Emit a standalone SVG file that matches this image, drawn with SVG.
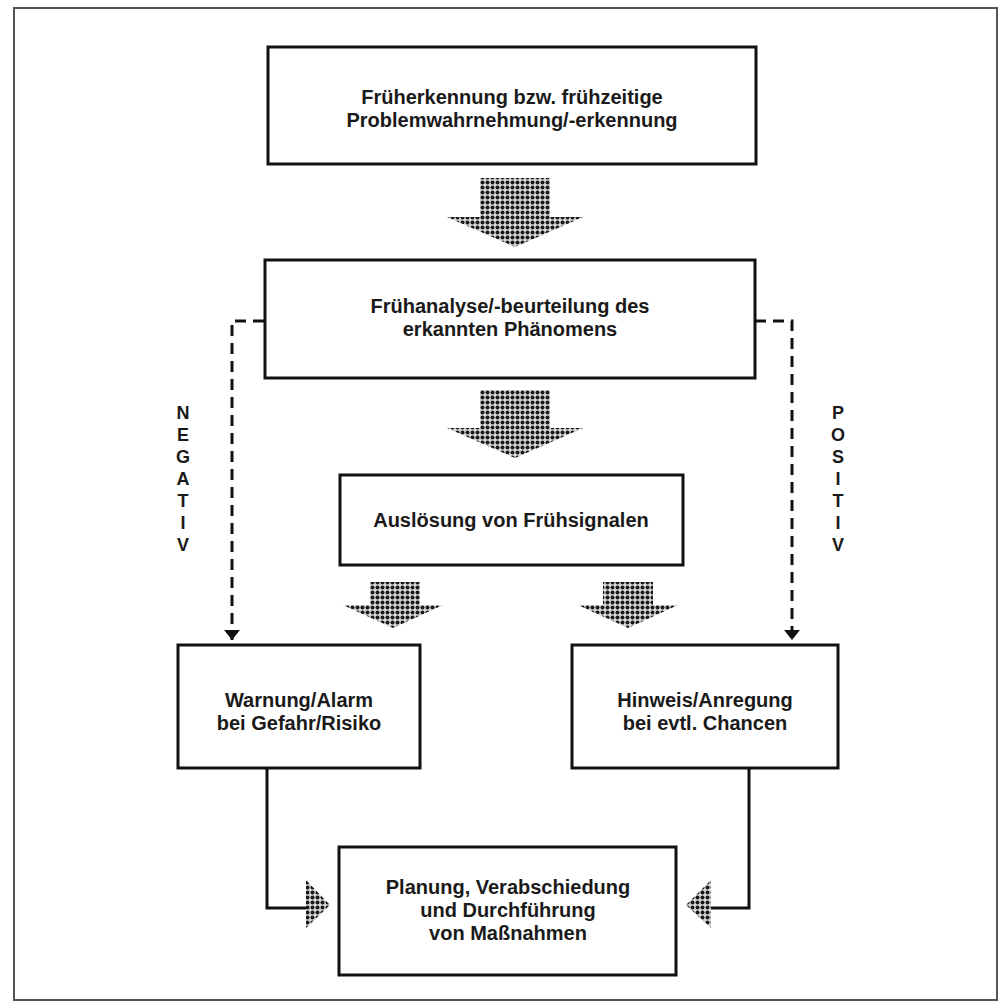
<svg xmlns="http://www.w3.org/2000/svg" width="1001" height="1005" viewBox="0 0 1001 1005">
<style>
.box{fill:#fff;stroke:#111;stroke-width:3}
.t{font-family:"Liberation Sans",Arial,sans-serif;font-weight:700;font-size:20px;fill:#1a1a1a;text-anchor:middle}
.lbl{font-family:"Liberation Sans",Arial,sans-serif;font-weight:700;font-size:18px;fill:#1a1a1a;text-anchor:middle}
.dash{fill:none;stroke:#111;stroke-width:3;stroke-dasharray:11 7}
.solid{fill:none;stroke:#111;stroke-width:3}
.hatch{fill:url(#dots)}
</style>
<defs>
<pattern id="dots" width="5" height="5" patternUnits="userSpaceOnUse">
<rect width="5" height="5" fill="#d8d8d8"/>
<circle cx="2.5" cy="2.5" r="2" fill="#1a1a1a"/>
</pattern>
<marker id="ah" viewBox="0 0 10 16" refX="10" refY="8" markerWidth="10" markerHeight="16" markerUnits="userSpaceOnUse" orient="auto">
<path d="M0,0 L10,8 L0,16 Z" fill="#111"/>
</marker>
</defs>
<rect width="1001" height="1005" fill="#fff"/>
<rect x="14" y="8" width="983" height="992" fill="none" stroke="#555" stroke-width="2"/>

<g id="connectors">
<path class="dash" d="M264,321 H232 V640" marker-end="url(#ah)"/>
<path class="dash" d="M755,321 H792 V640" marker-end="url(#ah)"/>
<path class="solid" d="M267,768 V908 H306"/>
<path class="solid" d="M749,768 V908 H711"/>
<polygon class="hatch" points="306,880 330,905 306,928"/>
<polygon class="hatch" points="711,880 686,905 711,928"/>
<polygon class="hatch" points="480,178 550,178 550,217 583,217 515,247 447,217 480,217"/>
<polygon class="hatch" points="480,390 550,390 550,428 583,428 515,458 447,428 480,428"/>
<polygon class="hatch" points="370,582 420,582 420,605 443,605 393,628 343,605 370,605"/>
<polygon class="hatch" points="603,582 653,582 653,605 678,605 628,628 578,605 603,605"/>
</g>

<g id="n1">
<rect class="box" x="268" y="47" width="488" height="117"/>
<text class="t" x="512" y="104">Früherkennung bzw. frühzeitige</text>
<text class="t" x="512" y="127">Problemwahrnehmung/-erkennung</text>
</g>
<g id="n2">
<rect class="box" x="265" y="260" width="490" height="118"/>
<text class="t" x="510" y="313">Frühanalyse/-beurteilung des</text>
<text class="t" x="510" y="336">erkannten Phänomens</text>
</g>
<g id="n3">
<rect class="box" x="340" y="475" width="343" height="90"/>
<text class="t" x="511" y="527">Auslösung von Frühsignalen</text>
</g>
<g id="n4">
<rect class="box" x="178" y="645" width="242" height="123"/>
<text class="t" x="299" y="707">Warnung/Alarm</text>
<text class="t" x="299" y="730">bei Gefahr/Risiko</text>
</g>
<g id="n5">
<rect class="box" x="572" y="645" width="266" height="123"/>
<text class="t" x="705" y="707">Hinweis/Anregung</text>
<text class="t" x="705" y="730">bei evtl. Chancen</text>
</g>
<g id="n6">
<rect class="box" x="339" y="847" width="337" height="128"/>
<text class="t" x="508" y="894">Planung, Verabschiedung</text>
<text class="t" x="508" y="917">und Durchführung</text>
<text class="t" x="508" y="940">von Maßnahmen</text>
</g>
<g id="neg">
<text class="lbl" x="183" y="419">N</text>
<text class="lbl" x="183" y="441">E</text>
<text class="lbl" x="183" y="463">G</text>
<text class="lbl" x="183" y="485">A</text>
<text class="lbl" x="183" y="507">T</text>
<text class="lbl" x="183" y="529">I</text>
<text class="lbl" x="183" y="551">V</text>
</g>
<g id="pos">
<text class="lbl" x="838" y="419">P</text>
<text class="lbl" x="838" y="441">O</text>
<text class="lbl" x="838" y="463">S</text>
<text class="lbl" x="838" y="485">I</text>
<text class="lbl" x="838" y="507">T</text>
<text class="lbl" x="838" y="529">I</text>
<text class="lbl" x="838" y="551">V</text>
</g>
</svg>
